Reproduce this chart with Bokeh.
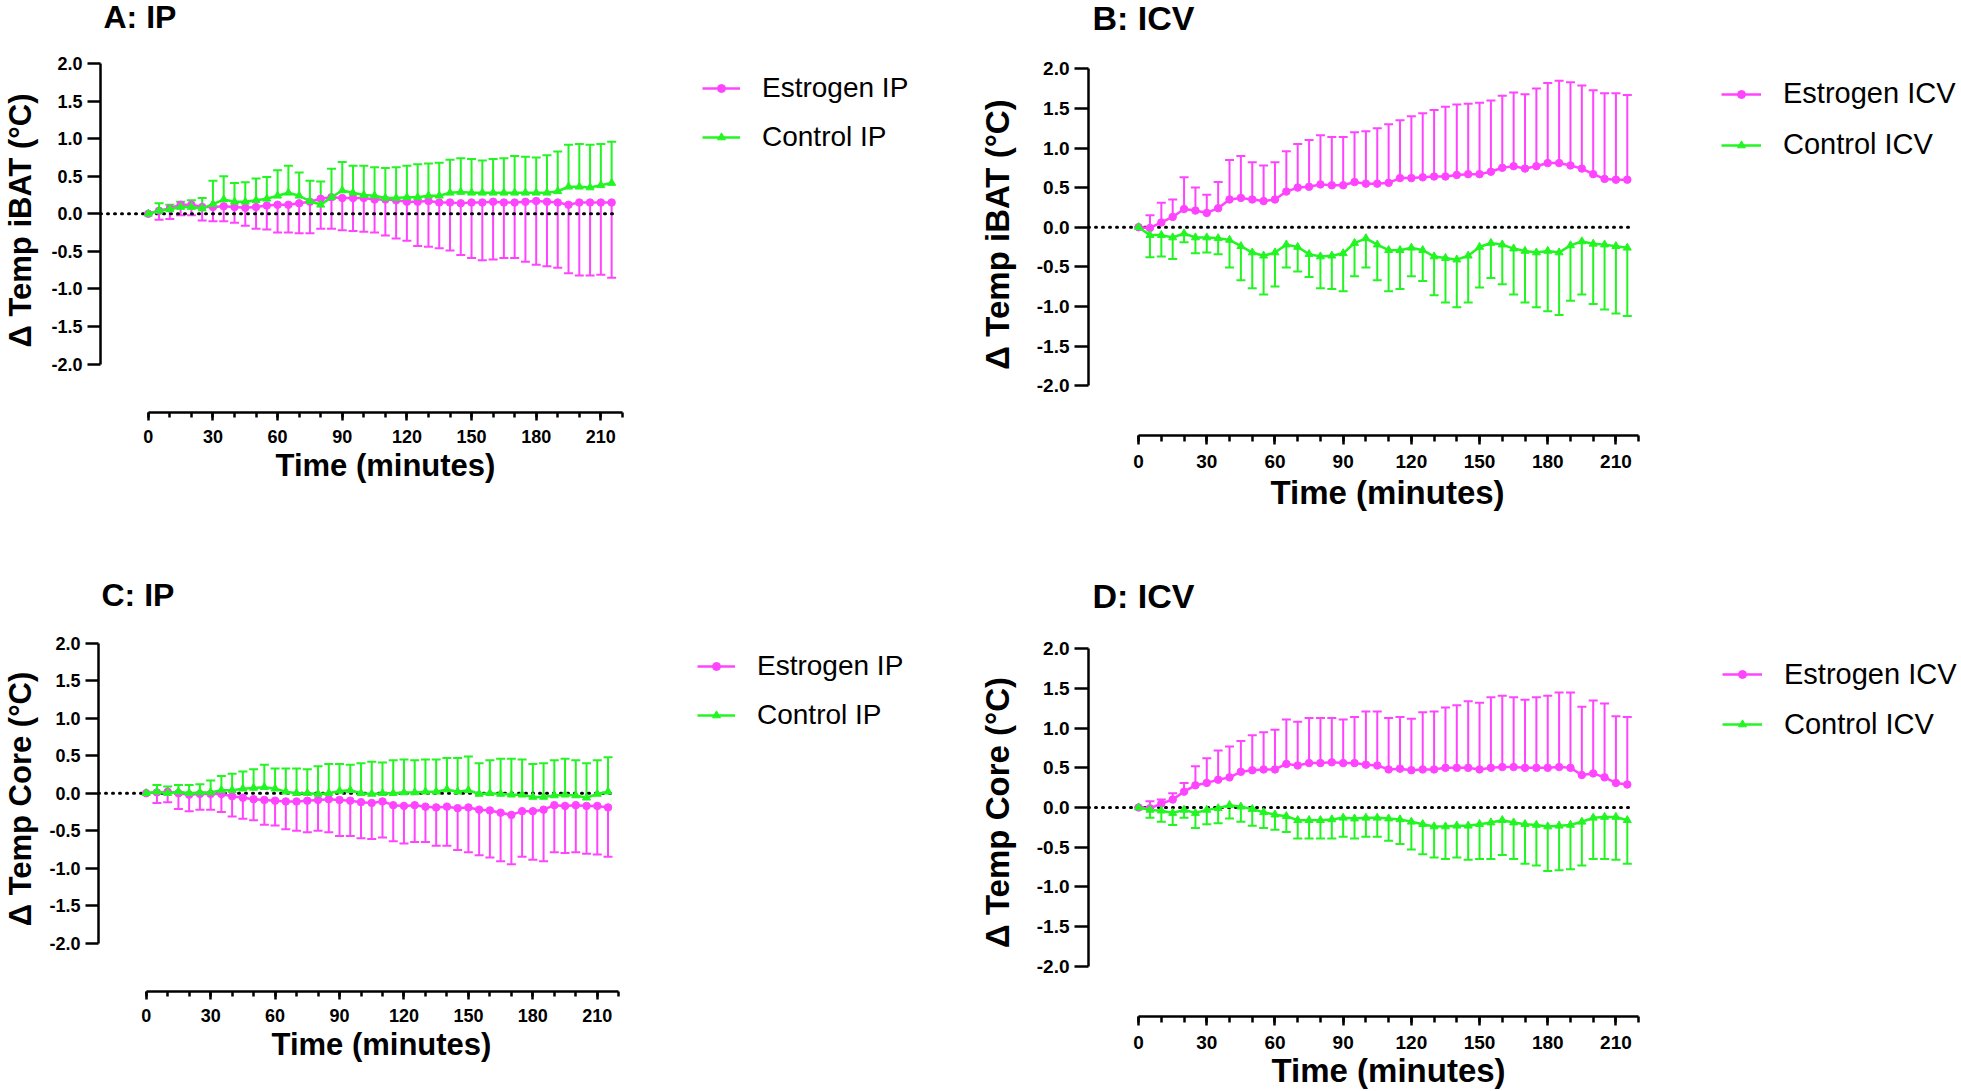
import numpy as np
from bokeh.plotting import figure
from bokeh.layouts import column, row
from bokeh.models import (ColumnDataSource, Whisker, TeeHead, FixedTicker, NumeralTickFormatter, Range1d, Title)
from bokeh.embed import file_html
from bokeh.resources import INLINE

# ---------------- data ----------------
TIME = list(range(0, 220, 5))  # minutes, 44 points

# Panel A: delta iBAT temperature, IP injection
A_EST_MEAN = [0, .04, .07, .12, .12, .09, .09, .10, .09, .08, .09, .11, .12, .12, .14, .16, .20, .22, .21, .21, .21, .19,
              .19, .18, .16, .16, .17, .15, .15, .14, .15, .15, .16, .15, .15, .16, .17, .16, .15, .12, .15, .15, .15, .15]
A_EST_SEM = [0, .12, .14, .14, .14, .18, .19, .20, .21, .24, .29, .32, .37, .37, .40, .42, .40, .42, .43, .44, .45, .44,
             .48, .51, .52, .59, .61, .61, .64, .69, .74, .77, .77, .74, .74, .80, .85, .86, .87, .91, .97, .97, .96, 1.00]
A_CTL_MEAN = [0, .04, .06, .09, .09, .07, .13, .19, .16, .16, .18, .20, .24, .28, .24, .17, .12, .22, .31, .28, .25, .24,
              .21, .21, .22, .22, .24, .24, .28, .29, .28, .28, .28, .28, .28, .28, .28, .28, .30, .36, .36, .35, .38, .41]
A_CTL_SEM = [0, .10, .06, .07, .09, .14, .31, .31, .25, .26, .29, .29, .34, .36, .31, .27, .31, .38, .38, .36, .39, .38,
             .40, .41, .42, .44, .43, .44, .44, .45, .45, .43, .45, .46, .49, .48, .47, .50, .53, .56, .57, .57, .55, .55]

# Panel B: delta iBAT temperature, ICV injection
B_EST_MEAN = [0, -.01, .06, .13, .23, .21, .18, .24, .35, .37, .35, .33, .35, .45, .50, .51, .54, .53, .53, .57, .55, .55,
              .56, .62, .62, .63, .64, .64, .66, .67, .67, .70, .75, .77, .74, .77, .81, .81, .78, .74, .67, .61, .60, .60]
B_EST_SEM = [0, .16, .25, .22, .40, .29, .23, .33, .50, .53, .47, .45, .47, .51, .55, .59, .62, .61, .61, .63, .66, .70,
             .74, .73, .78, .81, .84, .88, .89, .89, .90, .90, .91, .93, .94, .98, 1.01, 1.04, 1.05, 1.05, 1.06, 1.08, 1.09, 1.07]
B_CTL_MEAN = [0, -.10, -.10, -.13, -.08, -.13, -.13, -.14, -.16, -.24, -.32, -.36, -.32, -.22, -.25, -.34, -.37, -.36,
              -.33, -.20, -.14, -.22, -.29, -.29, -.26, -.29, -.37, -.39, -.41, -.36, -.25, -.20, -.22, -.27, -.30, -.32,
              -.30, -.32, -.23, -.18, -.21, -.22, -.24, -.26]
B_CTL_SEM = [0, .28, .27, .27, .11, .20, .19, .20, .35, .43, .45, .49, .43, .29, .31, .29, .40, .42, .48, .42, .37, .45,
             .52, .49, .36, .39, .49, .56, .60, .59, .51, .44, .50, .58, .65, .69, .76, .79, .70, .67, .76, .82, .85, .86]

# Panel C: delta core temperature, IP injection
C_EST_MEAN = [0, .01, .02, 0, -.02, -.01, -.01, -.01, -.04, -.06, -.08, -.09, -.10, -.11, -.11, -.10, -.09, -.08, -.09,
              -.10, -.12, -.13, -.11, -.16, -.17, -.16, -.18, -.19, -.18, -.20, -.19, -.22, -.23, -.26, -.29, -.24, -.24,
              -.22, -.16, -.17, -.16, -.17, -.17, -.19]
C_EST_SEM = [0, .14, .14, .21, .22, .21, .21, .24, .27, .28, .28, .33, .33, .37, .39, .42, .41, .44, .48, .47, .48, .48,
             .48, .48, .50, .49, .47, .51, .52, .56, .60, .61, .63, .65, .66, .61, .65, .69, .63, .63, .63, .64, .65, .66]
C_CTL_MEAN = [0, .02, 0, .02, 0, .01, .01, .04, .04, .06, .07, .08, .06, .02, 0, 0, -.01, 0, .03, .04, 0, -.01, 0, 0,
              .01, .01, .02, .02, .05, .02, .04, -.01, 0, -.01, -.02, -.02, -.05, -.05, -.03, -.02, -.03, -.06, -.01, .02]
C_CTL_SEM = [0, .09, .09, .09, .11, .11, .16, .19, .22, .23, .25, .30, .27, .31, .33, .32, .37, .39, .36, .34, .40, .43,
             .41, .44, .44, .43, .43, .43, .42, .45, .45, .41, .44, .47, .48, .47, .44, .45, .47, .48, .47, .46, .45, .46]

# Panel D: delta core temperature, ICV injection
D_EST_MEAN = [0, -.01, .05, .10, .20, .28, .31, .35, .38, .45, .47, .48, .48, .55, .53, .56, .56, .57, .56, .56, .54, .53,
              .48, .49, .47, .48, .48, .50, .50, .50, .48, .50, .51, .51, .50, .50, .50, .51, .50, .41, .43, .38, .31, .29]
D_EST_SEM = [0, .09, .05, .08, .11, .24, .31, .37, .39, .39, .44, .47, .50, .56, .55, .57, .57, .56, .55, .58, .67, .68,
             .65, .65, .65, .72, .73, .76, .79, .84, .84, .89, .90, .88, .86, .89, .91, .94, .95, .86, .92, .93, .84, .85]
D_CTL_MEAN = [0, -.03, -.04, -.07, -.03, -.07, -.03, -.01, .03, .01, -.02, -.06, -.09, -.11, -.16, -.16, -.16, -.15,
              -.13, -.14, -.13, -.13, -.14, -.15, -.18, -.21, -.24, -.24, -.23, -.23, -.21, -.19, -.16, -.19, -.21, -.22,
              -.24, -.23, -.22, -.18, -.13, -.12, -.12, -.16]
D_CTL_SEM = [0, .10, .14, .15, .10, .19, .18, .19, .17, .19, .21, .20, .19, .20, .23, .23, .23, .24, .24, .25, .24, .24,
             .28, .31, .35, .38, .39, .41, .40, .43, .44, .46, .44, .46, .50, .51, .56, .56, .56, .55, .52, .53, .54, .55]

X_MAJOR_TICKS = [0, 30, 60, 90, 120, 150, 180, 210]
X_MINOR_TICKS = list(range(0, 221, 10))
X_BOUNDS = (0, 220)
Y_TICKS = [-2.0, -1.5, -1.0, -0.5, 0.0, 0.5, 1.0, 1.5, 2.0]
Y_BOUNDS = (-2.0, 2.0)
ZERO_LINE_END = 218
X_LABEL = "Time (minutes)"

MAGENTA = "#FF44FF"
GREEN = "#22F522"
FONT = "Liberation Sans"

# ---------------- layout (page pixels) ----------------
PANELS = [
    dict(key="A", title="A: IP", ylabel="\u0394 Temp iBAT (\u00b0C)",
         est=(A_EST_MEAN, A_EST_SEM, -1, "Estrogen IP"), ctl=(A_CTL_MEAN, A_CTL_SEM, +1, "Control IP"),
         origin=(0, 0), size=(960, 560), left=100, top=28, bottom=412, title_st=-16,
         x0=147.8, xppu=2.155, y0=213.3, yppu=75.1, s=1.0, title_off=3, xlab_off=175, xlab_st=5, xtick_st=9,
         xtick_out=8, ytick_out=13,
         leg_left=702, leg_top=63, leg_row=49, leg_glyph=38, leg_font=28, ylab_standoff=10),
    dict(key="B", title="B: ICV", ylabel="\u0394 Temp iBAT (\u00b0C)",
         est=(B_EST_MEAN, B_EST_SEM, +1, "Estrogen ICV"), ctl=(B_CTL_MEAN, B_CTL_SEM, -1, "Control ICV"),
         origin=(960, 0), size=(1000, 560), left=1088, top=33, bottom=435, title_st=-10,
         x0=1138.1, xppu=2.273, y0=226.7, yppu=79.2, s=1.055, title_off=4, xlab_off=182, xlab_st=6, xtick_st=10,
         xtick_out=9, ytick_out=14,
         leg_left=1721, leg_top=68, leg_row=51.5, leg_glyph=40, leg_font=29, ylab_standoff=18),
    dict(key="C", title="C: IP", ylabel="\u0394 Temp Core (\u00b0C)",
         est=(C_EST_MEAN, C_EST_SEM, -1, "Estrogen IP"), ctl=(C_CTL_MEAN, C_CTL_SEM, +1, "Control IP"),
         origin=(0, 560), size=(960, 530), left=98, top=606, bottom=991, title_st=-16,
         x0=145.7, xppu=2.148, y0=792.7, yppu=74.9, s=1.0, title_off=3, xlab_off=173, xlab_st=4, xtick_st=9,
         xtick_out=8, ytick_out=13,
         leg_left=697, leg_top=641.5, leg_row=49, leg_glyph=38, leg_font=28, ylab_standoff=8),
    dict(key="D", title="D: ICV", ylabel="\u0394 Temp Core (\u00b0C)",
         est=(D_EST_MEAN, D_EST_SEM, +1, "Estrogen ICV"), ctl=(D_CTL_MEAN, D_CTL_SEM, -1, "Control ICV"),
         origin=(960, 560), size=(1000, 530), left=1088, top=608, bottom=1016, title_st=-16,
         x0=1138.1, xppu=2.273, y0=807.0, yppu=79.3, s=1.055, title_off=4, xlab_off=183, xlab_st=0, xtick_st=10,
         xtick_out=9, ytick_out=14,
         leg_left=1722, leg_top=649, leg_row=50, leg_glyph=40, leg_font=29, ylab_standoff=18),
]


def make_panel(spec):
    ox, oy = spec["origin"]
    w, h = spec["size"]
    fl, ft, fb = spec["left"], spec["top"], spec["bottom"]
    fr = ox + w
    s = spec["s"]
    x_start = (fl - spec["x0"]) / spec["xppu"]
    x_end = (fr - spec["x0"]) / spec["xppu"]
    y_end = (spec["y0"] - ft) / spec["yppu"]
    y_start = (spec["y0"] - fb) / spec["yppu"]

    p = figure(width=w, height=h, output_backend="svg", toolbar_location=None,
               x_range=Range1d(x_start, x_end), y_range=Range1d(y_start, y_end),
               min_border_left=fl - ox, min_border_right=0,
               min_border_top=ft - oy, min_border_bottom=(oy + h) - fb,
               background_fill_color="white", border_fill_color="white")
    if "frame_align" in p.properties():
        p.frame_align = False
    p.outline_line_color = None
    p.xgrid.visible = False
    p.ygrid.visible = False

    p.title.text = spec["title"]
    p.title.text_font = FONT
    p.title.text_font_style = "bold"
    p.title.text_font_size = f"{round(32 * s)}px"
    p.title.text_color = "black"
    p.title.align = "left"
    p.title.vertical_align = "top"
    p.title.offset = spec["title_off"]
    p.title.standoff = spec["title_st"]

    # zero reference line
    p.segment(x0=[x_start], y0=[0], x1=[ZERO_LINE_END], y1=[0], line_color="black",
              line_width=3, line_dash="1 6", line_cap="round")

    for (mean, sem, direction, label), color, marker, msize in (
            (spec["est"], MAGENTA, "circle", 7.5),
            (spec["ctl"], GREEN, "triangle", 8)):
        m = np.array(mean)
        e = np.array(sem)
        if direction > 0:
            lower, upper = m, m + e
        else:
            lower, upper = m - e, m
        src = ColumnDataSource(dict(t=TIME, mean=m, lower=lower, upper=upper))
        head = TeeHead(size=9, line_color=color, line_width=2)
        wk = Whisker(source=src, base="t", lower="lower", upper="upper", dimension="height",
                     line_color=color, line_width=2,
                     upper_head=head if direction > 0 else None,
                     lower_head=head if direction < 0 else None,
                     level="underlay")
        p.add_layout(wk)
        p.line("t", "mean", source=src, line_color=color, line_width=2.5, legend_label=label)
        p.scatter("t", "mean", source=src, marker=marker, size=msize, fill_color=color,
                  line_color=color, legend_label=label)

    # axes
    xa = p.xaxis[0]
    xa.ticker = FixedTicker(ticks=X_MAJOR_TICKS, minor_ticks=X_MINOR_TICKS)
    xa.bounds = X_BOUNDS
    ya = p.yaxis[0]
    ya.ticker = FixedTicker(ticks=Y_TICKS, minor_ticks=[])
    ya.bounds = Y_BOUNDS
    ya.formatter = NumeralTickFormatter(format="0.0")
    ya.axis_label = spec["ylabel"]
    for ax in (xa, ya):
        ax.axis_line_width = 2.5
        ax.axis_line_color = "black"
        ax.major_tick_line_width = 2.5
        ax.minor_tick_line_width = 2.5
        ax.major_tick_in = 0
        ax.minor_tick_in = 0
        ax.major_label_text_font = FONT
        ax.major_label_text_font_style = "bold"
        ax.major_label_text_color = "black"
        ax.major_label_text_font_size = f"{round(18 * s)}px"
        ax.axis_label_text_font = FONT
        ax.axis_label_text_font_style = "bold"
        ax.axis_label_text_color = "black"
        ax.axis_label_text_font_size = f"{round(31 * s)}px"
    xa.major_tick_out = spec["xtick_out"]
    xa.minor_tick_out = spec["xtick_out"] - 3
    xa.major_label_standoff = spec["xtick_st"]
    ya.major_tick_out = spec["ytick_out"]
    ya.minor_tick_line_color = None
    ya.major_label_standoff = 5
    ya.axis_label_standoff = spec["ylab_standoff"]

    # x-axis title, centred under the axis itself (not the whole frame)
    xt = Title(text=X_LABEL, align="left", vertical_align="top", offset=spec["xlab_off"],
               standoff=spec["xlab_st"], text_font=FONT, text_font_style="bold",
               text_font_size=f"{round(31 * s)}px", text_color="black")
    p.add_layout(xt, "below")

    # legend, to the right of the axes
    leg = p.legend[0]
    leg.label_text_font = FONT
    leg.label_text_font_size = f"{spec['leg_font']}px"
    leg.label_text_color = "black"
    leg.glyph_width = spec["leg_glyph"]
    leg.glyph_height = 20
    leg.label_height = int(spec["leg_row"])
    leg.label_standoff = 22
    leg.spacing = 0
    leg.padding = 0
    leg.margin = 0
    leg.border_line_color = None
    leg.background_fill_alpha = 0
    leg_h = 2 * int(spec["leg_row"])
    leg.location = (spec["leg_left"] - fl, fb - (spec["leg_top"] + leg_h))
    return p


figs = [make_panel(sp) for sp in PANELS]
layout = column(row(figs[0], figs[1]), row(figs[2], figs[3]))

open("out.html", "w").write(file_html(layout, INLINE))
